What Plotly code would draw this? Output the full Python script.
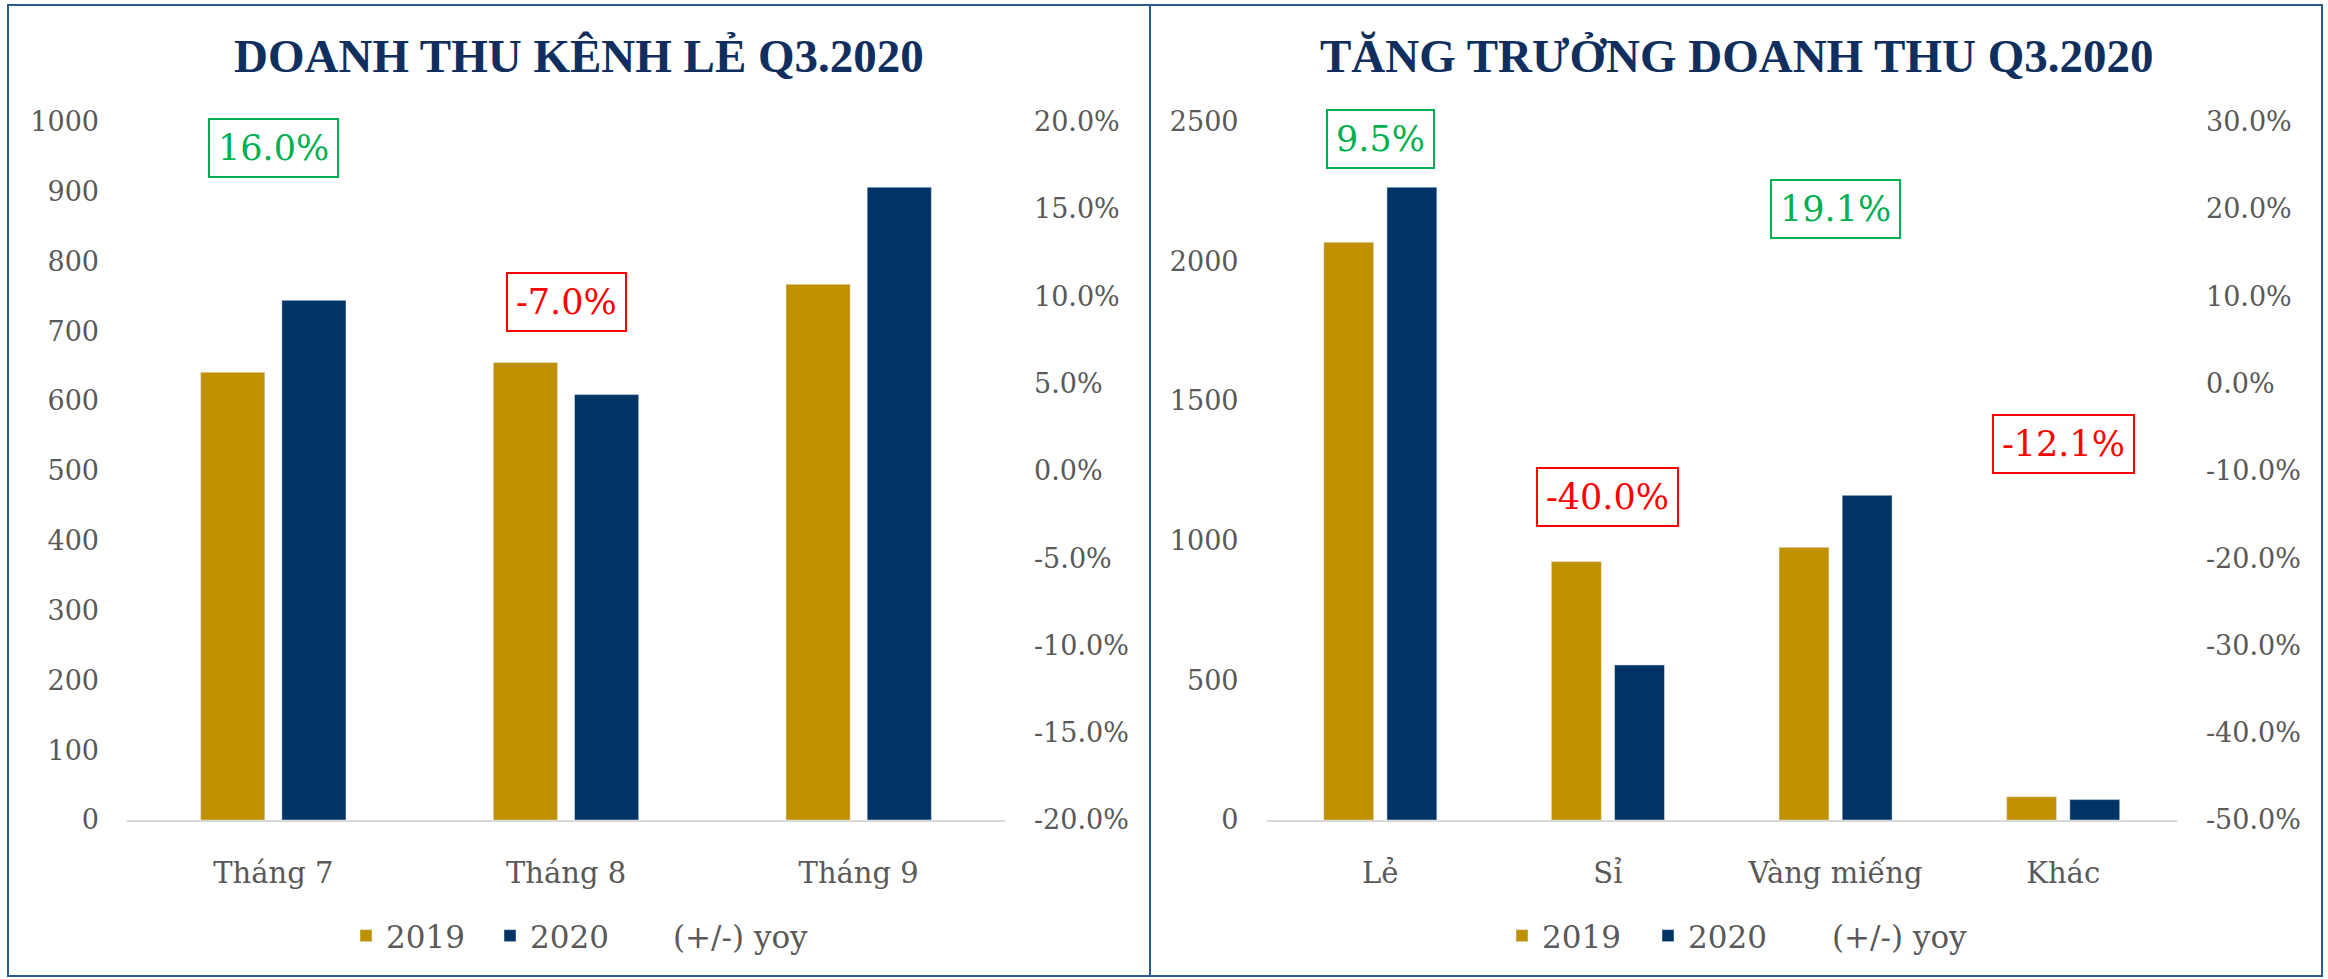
import plotly.graph_objects as go

W, H = 2328, 979

# ---------------- data ----------------
months = ["Tháng 7", "Tháng 8", "Tháng 9"]
retail_2019 = [641, 655, 767]
retail_2020 = [744, 609, 906]
retail_yoy = [0.160, -0.070, 0.182]

segments = ["Lẻ", "Sỉ", "Vàng miếng", "Khác"]
seg_2019 = [2068, 925, 976, 83]
seg_2020 = [2265, 555, 1162, 73]
seg_yoy = [0.095, -0.400, 0.191, -0.121]

# secondary axis tick values / labels
retail_pct_ticks = [-0.20, -0.15, -0.10, -0.05, 0.0, 0.05, 0.10, 0.15, 0.20]
retail_pct_labels = ["-20.0%", "-15.0%", "-10.0%", "-5.0%", "0.0%", "5.0%", "10.0%", "15.0%", "20.0%"]
seg_pct_ticks = [-0.5, -0.4, -0.3, -0.2, -0.1, 0.0, 0.1, 0.2, 0.3]
seg_pct_labels = ["-50.0%", "-40.0%", "-30.0%", "-20.0%", "-10.0%", "0.0%", "10.0%", "20.0%", "30.0%"]

# label placement (in secondary-axis units), kept apart from the data
retail_label_pos = [0.1848, 0.0966, 0.2069]
seg_label_pos = [0.2805, -0.1301, 0.2001, -0.0694]

title_left = "DOANH THU KÊNH LẺ Q3.2020"
title_right = "TĂNG TRƯỞNG DOANH THU Q3.2020"

# ---------------- style ----------------
GOLD = "#BF9000"
NAVY = "#003366"
GREEN = "#00B050"
RED = "#FF0000"
GRAY = "#595959"
TITLE_C = "#102F5E"
BORDER = "#2A5A8E"
FONT = "DejaVu Serif"
TFONT = "Liberation Serif"


def px(x):
    return x / W


def py(y):
    return 1 - y / H


def fmt_pct(v):
    return f"{v*100:.1f}%"


fig = go.Figure()

# left chart
fig.add_trace(go.Bar(x=months, y=retail_2019, name="2019", marker_color=GOLD,
                     xaxis="x", yaxis="y", legend="legend", legendwidth=99))
fig.add_trace(go.Bar(x=months, y=retail_2020, name="2020", marker_color=NAVY,
                     xaxis="x", yaxis="y", legend="legend", legendwidth=98))
fig.add_trace(go.Scatter(x=months, y=retail_yoy, name="(+/-) yoy", mode="lines",
                         line=dict(width=0, color="rgba(0,0,0,0)"),
                         xaxis="x", yaxis="y2", legend="legend", legendwidth=170,
                         hoverinfo="skip"))

# right chart
fig.add_trace(go.Bar(x=segments, y=seg_2019, name="2019", marker_color=GOLD,
                     xaxis="x2", yaxis="y3", legend="legend2", legendwidth=101))
fig.add_trace(go.Bar(x=segments, y=seg_2020, name="2020", marker_color=NAVY,
                     xaxis="x2", yaxis="y3", legend="legend2", legendwidth=99))
fig.add_trace(go.Scatter(x=segments, y=seg_yoy, name="(+/-) yoy", mode="lines",
                         line=dict(width=0, color="rgba(0,0,0,0)"),
                         xaxis="x2", yaxis="y4", legend="legend2", legendwidth=170,
                         hoverinfo="skip"))

ydom = [py(820), py(121.5)]
tickfont = dict(family=FONT, size=27, color=GRAY)
catfont = dict(family=FONT, size=29, color=GRAY)

common_x = dict(type="category", showgrid=False, zeroline=False, showline=True,
                linecolor="#D9D9D9", linewidth=2, ticks="", tickfont=catfont,
                ticklabelstandoff=26, fixedrange=True, automargin=False)
common_y = dict(showgrid=False, zeroline=False, showline=False, ticks="",
                tickfont=tickfont, fixedrange=True, automargin=False)

annotations = []
for name, x0, x1 in [(title_left, 8, 1150), (title_right, 1150, 2322)]:
    annotations.append(dict(text=f"<b>{name}</b>", xref="paper", yref="paper",
                            x=px((x0 + x1) / 2), y=py(56), xanchor="center",
                            yanchor="middle", showarrow=False,
                            font=dict(family=TFONT, size=47, color=TITLE_C)))

for cats, vals, pos, yref, xref in [(months, retail_yoy, retail_label_pos, "y2", "x"),
                                    (segments, seg_yoy, seg_label_pos, "y4", "x2")]:
    for c, v, p in zip(cats, vals, pos):
        col = GREEN if v >= 0 else RED
        annotations.append(dict(text=fmt_pct(v), x=c, y=p, xref=xref, yref=yref,
                                showarrow=False, xanchor="center", yanchor="middle",
                                font=dict(family=FONT, size=35, color=col),
                                bordercolor=col, borderwidth=2, borderpad=8, height=40,
                                bgcolor="white"))

shapes = []
for x0, x1 in [(8, 1150), (1150, 2322)]:
    shapes.append(dict(type="rect", xref="paper", yref="paper",
                       x0=px(x0), x1=px(x1), y0=py(976), y1=py(5),
                       line=dict(color=BORDER, width=2), fillcolor="rgba(0,0,0,0)"))

legend_common = dict(orientation="h", yanchor="middle", y=py(936), xanchor="left",
                     font=dict(family=FONT, size=31, color=GRAY),
                     bgcolor="rgba(0,0,0,0)", traceorder="normal")

fig.update_layout(
    width=W, height=H,
    margin=dict(l=0, r=0, t=0, b=0, pad=0, autoexpand=False),
    paper_bgcolor="white", plot_bgcolor="white",
    barmode="group", bargap=0.445, bargroupgap=0.21,
    hovermode=False,
    xaxis=dict(domain=[px(127), px(1005)], anchor="y", **common_x),
    yaxis=dict(domain=ydom, anchor="x", range=[0, 1000], dtick=100,
               ticklabelstandoff=27, **common_y),
    yaxis2=dict(overlaying="y", side="right", anchor="x", range=[-0.2, 0.2],
                tickvals=retail_pct_ticks, ticktext=retail_pct_labels,
                ticklabelstandoff=28, **common_y),
    xaxis2=dict(domain=[px(1266.5), px(2177)], anchor="y3", **common_x),
    yaxis3=dict(domain=ydom, anchor="x2", range=[0, 2500], dtick=500,
                ticklabelstandoff=27, **common_y),
    yaxis4=dict(overlaying="y3", side="right", anchor="x2", range=[-0.5, 0.3],
                tickvals=seg_pct_ticks, ticktext=seg_pct_labels,
                ticklabelstandoff=28, **common_y),
    legend=dict(x=px(346), **legend_common),
    legend2=dict(x=px(1502), **legend_common),
    annotations=annotations,
    shapes=shapes,
)

fig.write_html("out.html", config={"displayModeBar": False},
               post_script="document.body.style.margin='0';")
